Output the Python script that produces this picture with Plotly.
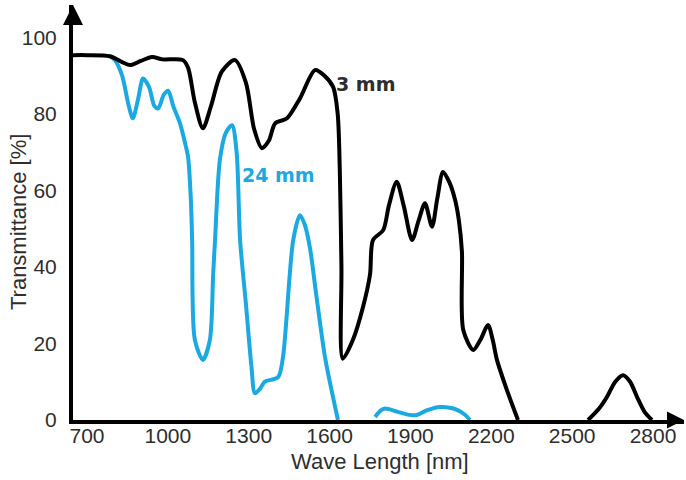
import plotly.graph_objects as go

# 3 mm sample (black)
wl_3mm = [648, 700, 785, 830, 860, 900, 941, 980, 1056, 1075, 1100, 1130, 1160, 1200, 1249, 1290, 1320,
          1349, 1375, 1398, 1442, 1490, 1546, 1580, 1613, 1630, 1638, 1644, 1649, 1687, 1724, 1750, 1761,
          1799, 1820, 1849, 1875, 1906, 1930, 1954, 1980, 2000, 2021, 2045, 2066, 2080, 2091, 2096, 2133,
          2160, 2188, 2205, 2221, 2258, 2299,
          None,
          2559, 2600, 2629, 2660, 2689, 2715, 2741, 2770, 2796]
tr_3mm = [95.3, 95.3, 95, 93.5, 92.7, 93.8, 94.8, 94.2, 94, 92, 83, 76.2, 82, 91, 94, 88, 76,
          71, 73, 77.5, 78.8, 84, 91.4, 90, 87, 80, 65, 40, 16, 21, 29.5, 38, 47,
          49.6, 56, 62.2, 56, 47, 52, 56.6, 50.5, 58, 64.8, 62, 57.4, 52, 44, 23.5, 18.3,
          21, 24.8, 21, 15.7, 7.8, 0,
          None,
          0, 3, 6, 10, 11.7, 10, 6, 2, 0]

# 24 mm sample (blue)
wl_24mm = [785, 804, 830, 855, 870, 890, 908, 930, 950, 964, 985, 1001, 1020, 1045, 1065, 1075, 1085,
           1090, 1100, 1130, 1156, 1168, 1175, 1193, 1215, 1238, 1255, 1268, 1290, 1310, 1323, 1340,
           1360, 1409, 1427, 1465, 1490, 1508, 1527, 1550, 1583, 1631,
           None,
           1769, 1790, 1806, 1850, 1890, 1924, 1960, 2010, 2060, 2100, 2121]
tr_24mm = [95, 94, 90, 82, 78.8, 84, 89.2, 87, 82, 81.4, 85, 86, 82, 77.5, 72, 68.7, 58,
           47, 21, 15.7, 21, 38, 47, 68, 75, 77, 70, 47, 30, 14, 7, 8,
           10, 11.2, 16.4, 47, 53.5, 51, 45, 33, 16.4, 0,
           None,
           0.8, 2.5, 3, 2.2, 1.4, 1.3, 2.5, 3.4, 3, 1.5, 0]

x_ticks = [700, 1000, 1300, 1600, 1900, 2200, 2500, 2800]
y_ticks = [0, 20, 40, 60, 80, 100]

x_range = [648, 2915]
y_range = [0, 108.4]

BLUE = "#1aa9e1"
TXT = "#2e2e2e"

fig = go.Figure()
fig.add_trace(go.Scatter(x=wl_24mm, y=tr_24mm, mode="lines",
                         line=dict(color=BLUE, width=4, shape="spline", smoothing=0.8),
                         connectgaps=False, cliponaxis=False, showlegend=False))
fig.add_trace(go.Scatter(x=wl_3mm, y=tr_3mm, mode="lines",
                         line=dict(color="black", width=4, shape="spline", smoothing=0.8),
                         connectgaps=False, cliponaxis=False, showlegend=False))
# axis arrowheads (tip at the end of each axis range)
fig.add_trace(go.Scatter(x=[x_range[0]], y=[y_range[1]], mode="markers",
                         marker=dict(symbol="arrow-up", size=20, color="black",
                                     line=dict(width=0)),
                         cliponaxis=False, showlegend=False, hoverinfo="skip"))
fig.add_trace(go.Scatter(x=[x_range[1]], y=[y_range[0]], mode="markers",
                         marker=dict(symbol="arrow-right", size=17, color="black",
                                     line=dict(width=0)),
                         cliponaxis=False, showlegend=False, hoverinfo="skip"))

fig.add_annotation(x=1735, y=87.7, text="<b>3 mm</b>", showarrow=False,
                   font=dict(family="DejaVu Sans", size=19, color=TXT))
fig.add_annotation(x=1412, y=64, text="<b>24 mm</b>", showarrow=False,
                   font=dict(family="DejaVu Sans", size=19, color=BLUE))

# axis titles
fig.add_annotation(xref="paper", yref="paper", x=0.502, y=-0.101, text="Wave Length [nm]",
                   showarrow=False, xanchor="center", yanchor="middle",
                   font=dict(size=22, color=TXT))
fig.add_annotation(xref="paper", yref="paper", x=-0.09, y=0.477, text="Transmittance [%]",
                   showarrow=False, xanchor="center", yanchor="middle", textangle=-90,
                   font=dict(size=22, color=TXT))

fig.update_layout(
    width=686, height=480,
    margin=dict(l=73, r=2, t=5, b=60),
    paper_bgcolor="white", plot_bgcolor="white",
    font=dict(family="Liberation Sans, Arial, sans-serif", size=21, color=TXT),
)
fig.update_xaxes(range=x_range, tickvals=x_ticks, ticktext=[str(v) for v in x_ticks],
                 showgrid=False, zeroline=False, showline=True, linecolor="black", linewidth=4,
                 ticks="", ticklabelstandoff=-6, automargin=False)
fig.update_yaxes(range=y_range, tickvals=y_ticks, ticktext=[str(v) for v in y_ticks],
                 showgrid=False, zeroline=False, showline=True, linecolor="black", linewidth=4,
                 ticks="", ticklabelstandoff=8, automargin=False)

fig.write_html("out.html", config={"displayModeBar": False},
               post_script="document.body.style.margin='0';")
